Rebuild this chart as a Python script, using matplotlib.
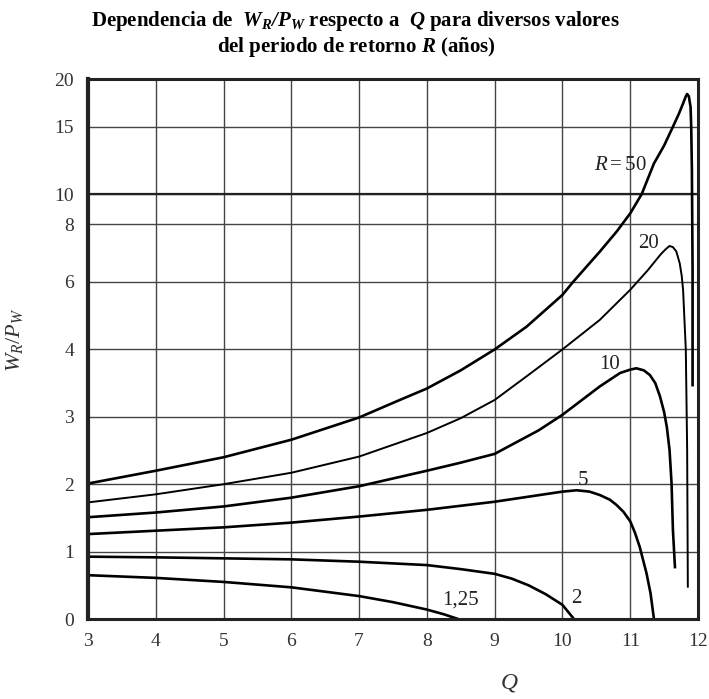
import matplotlib
matplotlib.use('Agg')
import matplotlib.pyplot as plt
import numpy as np

plt.rcParams['font.family'] = ['Liberation Serif', 'DejaVu Serif']
plt.rcParams['mathtext.fontset'] = 'custom'
plt.rcParams['mathtext.rm'] = 'Liberation Serif'
plt.rcParams['mathtext.it'] = 'Liberation Serif:italic'
plt.rcParams['mathtext.bf'] = 'Liberation Serif:bold'
plt.rcParams['mathtext.bfit'] = 'Liberation Serif:italic:bold'

#------------------------------------------------
# curves (Q, W_R/P_W)
q_50 = [3, 4, 5, 6, 7, 7.6, 8, 8.5, 9, 9.47, 10, 10.16, 10.55, 10.8, 11, 11.17, 11.35, 11.5, 11.63, 11.72, 11.78, 11.82, 11.84, 11.865, 11.89, 11.90, 11.91, 11.92, 11.92]
w_50 = [2.01, 2.20, 2.40, 2.66, 2.99, 3.25, 3.42, 3.69, 4.0, 4.67, 5.61, 6.0, 7.04, 7.74, 8.71, 10.0, 12.27, 13.6, 15.0, 16.4, 17.46, 18.2, 18.45, 18.2, 17.1, 15.0, 11.77, 6.4, 3.47]

q_20 = [3, 4, 5, 6, 7, 8, 8.5, 9, 9.47, 10, 10.55, 11, 11.26, 11.45, 11.52, 11.58, 11.63, 11.68, 11.73, 11.76, 11.78, 11.82, 11.84, 11.85]
w_20 = [1.73, 1.85, 2.00, 2.17, 2.41, 2.76, 2.98, 3.25, 3.6, 4.0, 4.87, 5.76, 6.40, 6.95, 7.12, 7.24, 7.2, 7.05, 6.64, 6.2, 5.76, 4.0, 2.51, 0.48]

q_10 = [3, 4, 5, 6, 7, 8, 8.5, 9, 9.65, 10, 10.55, 10.85, 11.0, 11.09, 11.2, 11.29, 11.37, 11.44, 11.5, 11.54, 11.58, 11.61, 11.63, 11.66]
w_10 = [1.51, 1.58, 1.67, 1.80, 1.97, 2.20, 2.32, 2.45, 2.80, 3.03, 3.45, 3.65, 3.70, 3.72, 3.69, 3.62, 3.50, 3.30, 3.07, 2.85, 2.51, 2.01, 1.32, 0.77]

q_5 = [3, 4, 5, 6, 7, 8, 9, 10, 10.21, 10.4, 10.55, 10.7, 10.8, 10.9, 11, 11.07, 11.14, 11.24, 11.3, 11.35]
w_5 = [1.26, 1.31, 1.36, 1.43, 1.52, 1.62, 1.74, 1.89, 1.91, 1.89, 1.84, 1.77, 1.69, 1.59, 1.45, 1.28, 1.07, 0.68, 0.38, 0.0]

q_2 = [3, 4, 5, 6, 7, 8, 8.5, 9, 9.25, 9.5, 9.75, 10, 10.17]
w_2 = [0.925, 0.915, 0.90, 0.885, 0.85, 0.80, 0.74, 0.67, 0.60, 0.50, 0.37, 0.21, 0.0]

q_125 = [3, 4, 5, 6, 7, 7.5, 8, 8.25, 8.46]
w_125 = [0.65, 0.61, 0.55, 0.47, 0.34, 0.25, 0.14, 0.07, 0.0]

# label text and where it sits (Q, W_R/P_W)
labels = [r'$R = 50$', '20', '10', '5', '2', '1,25']
label_q = [10.85, 11.27, 10.70, 10.30, 10.20, 8.50]
label_w = [12.15, 7.34, 3.78, 2.06, 0.31, 0.28]

x_ticks = [3, 4, 5, 6, 7, 8, 9, 10, 11, 12]
y_ticks = [0, 1, 2, 3, 4, 6, 8, 10, 15, 20]
# the y axis of the original is hand drawn, not linear: where each tick sits
y_tick_pos = [0, 1, 2, 3, 4, 5.005, 5.86, 6.306, 7.304, 8.008]

def fwd(y):
    return np.interp(y, y_ticks, y_tick_pos)

def inv(p):
    return np.interp(p, y_tick_pos, y_ticks)

#------------------------------------------------
fig = plt.figure(figsize=(7.09, 6.99), dpi=100)
ax = fig.add_axes([88/709, 80/699, 610/709, 539.7/699])
ax.set_yscale('function', functions=(fwd, inv))
ax.set_xlim(3, 12)
ax.set_ylim(0, 20)

ax.set_xticks(x_ticks)
ax.set_yticks(y_ticks)
ax.set_xticklabels([str(t) for t in x_ticks])
ax.set_yticklabels([str(t) for t in y_ticks])
ax.minorticks_off()
ax.tick_params(length=0, labelsize=14, labelcolor='#333')
ax.tick_params(axis='y', pad=10)
ax.tick_params(axis='x', pad=10)

ax.grid(True, color='#444', lw=1.0)
ax.axhline(10, color='#222', lw=1.6)

for s in ax.spines.values():
    s.set_linewidth(2.2)
    s.set_color('#222')
ax.spines['left'].set_linewidth(3.0)

ax.plot(q_50, w_50, color='black', lw=1.9)
ax.plot(q_20, w_20, color='black', lw=1.4)
ax.plot(q_10, w_10, color='black', lw=1.9)
ax.plot(q_5, w_5, color='black', lw=1.9)
ax.plot(q_2, w_2, color='black', lw=1.9)
ax.plot(q_125, w_125, color='black', lw=1.9)

for t, xq, yw in zip(labels, label_q, label_w):
    ax.text(xq, yw, t, fontsize=15, color='#222', ha='center', va='center')

ax.set_ylabel(r'$W_R/P_W$', fontsize=16, color='#333')
ax.yaxis.set_label_coords(-0.103, 0.517)
ax.set_xlabel(r'$Q$', fontsize=17, color='#333')
ax.xaxis.set_label_coords(0.69, -0.098)

fig.text(0.502, 1 - 34/699,
         'Dependencia de  $\\mathbfit{W_R/P_W}$ respecto a  $\\mathbfit{Q}$ para diversos valores\n'
         'del periodo de retorno $\\mathbfit{R}$ (años)',
         fontsize=15, fontweight='bold', ha='center', va='center', linespacing=1.1)

plt.savefig('out.png', dpi=100)
